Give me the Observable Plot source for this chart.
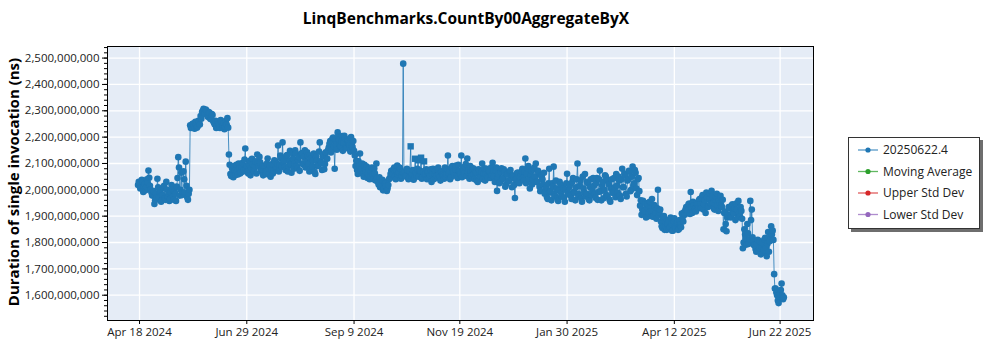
<!DOCTYPE html>
<html>
<head>
<meta charset="utf-8">
<script src="https://cdn.jsdelivr.net/npm/d3@7"></script>
<script src="https://cdn.jsdelivr.net/npm/@observablehq/plot@0.6"></script>
<style>
  body { margin: 0; background: #fff; font-family: "Open Sans", sans-serif; }
  #chart { position: relative; width: 1000px; height: 350px; overflow: hidden; }
  #chart svg.plotsvg { position: absolute; left: 0; top: 0; }
  #title { position: absolute; top: 8px; left: 0; width: 932px; text-align: center;
           font-weight: 700; font-size: 15.5px; color: #000; line-height: 20px; }
  #ylab { position: absolute; left: 13px; top: 182px; transform: translate(-50%, -50%) rotate(-90deg);
          white-space: nowrap; font-weight: 700; font-size: 15px; color: #000; }
  #legend { position: absolute; left: 848px; top: 137px; width: 132px; height: 92px; box-sizing: border-box;
            border: 1px solid #333; box-shadow: 3px 3px 0 #6e6e6e; background: #fff; }
</style>
</head>
<body>
<div id="chart">
  <div id="title"></div>
  <div id="ylab"></div>
  <div id="legend"></div>
</div>
<script>
// ---- data ----
const chartTitle = "LinqBenchmarks.CountBy00AggregateByX";
const yAxisTitle = "Duration of single invocation (ns)";
const firstRun = "2024-04-17";               // two runs per day (00:00 and 12:00) from this date
const morningRunsM = [                       // duration, millions of ns
  2018,2025,2008,2034,2012,1998,2040,2073,2015,1990,1982,1946,
  1985,2042,1972,1995,1960,2008,1968,2030,1975,1958,1990,2002,1962,1985,2012,2124,1978,2065,1990,2040,2107,1972,1985,
  2245,2238,2252,2232,2248,2240,2258,2280,2295,2308,2290,2300,2276,2292,2268,2284,2255,2262,2240,2250,2235,2258,2244,2230,2262,2272,
  2134,2060,2085,2048,2072,2095,2058,2080,2066,2102,2075,2157,2090,2062,2110,2082,2096,2070,2108,2134,2088,2104,2078,
  2055,2090,2062,2119,2080,2050,2098,2072,2108,2085,2168,2095,2120,2180,
  2110,2075,2132,2090,2148,2065,2118,2100,2138,2082,2125,2180,2140,2095,2150,2108,2130,
  2070,2120,2088,2138,2060,2112,2095,2180,2102,2128,2078,2142,2118,
  2160,2185,2150,2198,2080,2172,2218,2190,2165,2204,2178,2195,2158,2185,2170,2200,2162,2148,
  2090,2075,2108,2138,2082,2060,2095,2068,2045,2078,2052,2085,2040,2062,
  2100,2030,2048,2015,2038,2005,2025,1996,2018,
  2045,2072,2058,2085,2040,2092,2065,2080,2055,2479,
  2068,2050,2075,2045,2165,2060,2038,2118,2055,2112,2070,2122,2048,2108,2062,
  2040,2072,2055,2030,2080,2062,2045,2078,2058,2035,2070,2052,
  2085,2060,2130,2072,2048,2090,2065,2078,2052,2095,2070,2130,2085,2062,2098,2119,2075,2090,2055,2082,2040,2068,2030,2075,2050,2100,2062,2035,2080,2045,2070,
  2085,2103,2050,2075,1996,2060,2030,2082,2045,2068,2020,2058,2035,2075,2010,2050,1969,2040,2065,2025,2055,
  2080,2035,2119,2060,2090,2005,2072,2040,2085,2100,2030,2065,1995,2050,2020,
  1985,2010,1965,2080,1995,2025,2088,1975,2005,1958,2030,1990,2015,1970,2000,2061,1982,
  2020,1965,2045,1990,2010,2100,1975,2035,1955,2005,2060,1985,2025,1960,2040,1995,
  2015,1970,2045,1992,2073,1960,2030,2000,2050,1975,2020,1955,2040,1988,2010,
  2060,1990,2035,1965,2080,2010,2055,1975,2040,2070,2000,2088,2025,2065,1980,2045,
  1940,1905,1958,1920,1895,1945,1912,1930,1965,1900,1935,1890,2000,1915,
  1880,1855,1900,1862,1848,1885,1858,1870,1845,1892,1852,1875,1850,1868,1910,1880,
  1905,1935,1920,1948,1992,1912,1940,1925,1950,1930,
  1965,1930,1980,1945,1912,1970,1938,1985,1996,1950,1925,1975,1942,1960,1977,1935,1850,1918,1843,1905,
  1930,1895,1945,1910,1885,1925,1958,1900,1920,
  1778,1850,1815,1870,1795,1958,1925,1805,
  1790,1765,1810,1780,1755,1800,1772,1818,1748,1840,1805,1862,1845,
  1680,1625,1600,1570,1605,1644,1585
];
const eveningRunsM = [
  2030,2005,2038,1992,2022,2010,2028,2046,2000,1978,1995,1960,
  1970,2010,1990,1955,1980,2015,1962,2000,1985,1965,2018,1975,1995,1958,2045,2085,2000,1980,2070,1990,2015,1962,2000,
  2235,2250,2242,2258,2236,2262,2248,2270,2300,2290,2305,2282,2295,2270,2288,2260,2248,2235,2258,2242,2265,2238,2252,2240,2248,2236,
  2095,2052,2075,2090,2056,2068,2100,2062,2088,2070,2115,2080,2068,2098,2055,2118,2075,2090,2062,2100,2125,2070,2092,
  2082,2068,2100,2058,2092,2075,2062,2112,2080,2098,2070,2130,2088,2105,
  2085,2128,2070,2110,2095,2140,2080,2150,2090,2112,2072,2135,2100,2125,2085,2142,2098,
  2130,2082,2110,2068,2125,2090,2145,2108,2075,2135,2098,2120,2150,
  2175,2142,2195,2165,2188,2152,2200,2170,2182,2148,2205,2160,2190,2175,2145,2168,2185,2130,
  2110,2060,2090,2072,2100,2050,2078,2088,2062,2040,2070,2058,2082,2035,
  2045,2020,2010,2035,1998,2030,2012,2005,2040,
  2060,2048,2078,2052,2070,2058,2085,2042,2068,2062,
  2055,2080,2040,2070,2052,2075,2045,2065,2080,2050,2072,2042,2068,2058,2078,
  2065,2045,2078,2060,2040,2072,2055,2085,2048,2068,2058,2042,
  2050,2078,2062,2040,2085,2068,2055,2092,2045,2072,2060,2048,2075,2088,2052,2068,2042,2070,2080,2058,2065,2035,2078,2055,2068,2040,2082,2060,2050,2072,2045,
  2055,2070,2030,2085,2048,2025,2068,2040,2078,2012,2060,2032,2070,2045,2055,2018,2040,2065,2030,2050,2070,
  2045,2068,2025,2082,2040,2058,2020,2078,2050,2030,2072,2012,2055,2040,2065,
  2005,1972,2025,1990,1960,2012,1985,2035,1968,1998,2020,1975,2005,1955,2025,1990,2010,
  1978,2030,1992,1960,2040,1985,2015,1968,2050,1990,1975,2030,1965,2010,1980,2045,
  1985,2025,1962,2040,1995,2015,1968,2055,1980,2035,1962,2005,1990,2045,1972,
  2015,2050,1978,2040,2010,2062,1985,2035,2072,1995,2050,2015,2075,2005,2040,1995,
  1960,1925,1908,1950,1935,1900,1955,1918,1898,1942,1912,1930,1905,1925,
  1862,1895,1848,1878,1870,1852,1895,1845,1882,1860,1872,1848,1885,1858,1895,1915,
  1925,1915,1945,1908,1935,1955,1928,1918,1945,1960,
  1945,1972,1925,1960,1990,1935,1965,1948,1975,1930,1962,1985,1920,1950,1940,1962,1912,1870,1895,1935,
  1905,1940,1918,1930,1948,1895,1912,1935,1890,
  1800,1830,1792,1835,1812,1885,1820,1790,
  1775,1795,1768,1805,1785,1760,1812,1782,1795,1765,1825,1830,1810,
  1625,1610,1580,1595,1620,1600,1592
];
const squareMarkerDates = ["2024-10-17","2024-10-20","2024-10-22","2024-10-24","2024-10-26"];
const xTickLabels = ["2024-04-18","2024-06-29","2024-09-09","2024-11-19","2025-01-30","2025-04-12","2025-06-22"];
const yTickValuesM = [1600,1700,1800,1900,2000,2100,2200,2300,2400,2500];
const legendNames = ["20250622.4","Moving Average","Upper Std Dev","Lower Std Dev"];
const legendColors = ["#1f77b4","#2ca02c","#d62728","#9467bd"];

// ---- build ----
const start = new Date(firstRun + "T00:00:00Z");
const fmtDay = d3.utcFormat("%Y-%m-%d");
const squareSet = new Set(squareMarkerDates);
const runs = [];
morningRunsM.forEach((v, i) => {
  const date = d3.utcDay.offset(start, i);
  runs.push({date, square: squareSet.has(fmtDay(date)), value: v * 1e6});
});
eveningRunsM.forEach((v, i) => {
  const date = d3.utcHour.offset(d3.utcDay.offset(start, i), 12);
  runs.push({date, square: false, value: v * 1e6});
});
runs.sort((a, b) => a.date - b.date);
const circleRuns = runs.filter(d => !d.square);
const squareRuns = runs.filter(d => d.square);
const xTicks = xTickLabels.map(s => new Date(s + "T00:00:00Z"));
const yMajor = yTickValuesM.map(v => v * 1e6);
const yMinor = d3.range(1520, 2541, 20).map(v => v * 1e6);
const blue = legendColors[0];

document.getElementById("title").textContent = chartTitle;
document.getElementById("ylab").textContent = yAxisTitle;

const plot = Plot.plot({
  width: 1000,
  height: 350,
  marginLeft: 107,
  marginRight: 187,
  marginTop: 46,
  marginBottom: 30,
  style: {fontFamily: '"Open Sans", sans-serif', fontSize: "11.5px", color: "#222", background: "transparent"},
  x: {type: "utc", domain: [new Date("2024-03-27T12:00:00Z"), new Date("2025-07-14T10:00:00Z")], label: null},
  y: {domain: [1504e6, 2544e6], label: null},
  marks: [
    Plot.frame({fill: "#E5ECF6", stroke: null}),
    Plot.gridX({ticks: xTicks, stroke: "#fff", strokeOpacity: 1, strokeWidth: 1.3}),
    Plot.gridY({ticks: yMajor, stroke: "#fff", strokeOpacity: 1, strokeWidth: 1.3}),
    Plot.line(runs, {x: "date", y: "value", stroke: blue, strokeWidth: 1, strokeOpacity: 0.8}),
    Plot.dot(circleRuns, {x: "date", y: "value", r: 3.3, fill: blue, stroke: null}),
    Plot.dot(squareRuns, {x: "date", y: "value", r: 3.6, symbol: "square", fill: blue, stroke: null}),
    Plot.axisY({ticks: yMinor, tickSize: 3, tickFormat: () => "", label: null, stroke: "#000"}),
    Plot.axisY({ticks: yMajor, tickSize: 5, tickPadding: 3, tickFormat: d3.format(","), label: null, stroke: "#000"}),
    Plot.axisX({ticks: xTicks, tickSize: 4, tickPadding: 3, tickFormat: d3.utcFormat("%b %-d %Y"), label: null, stroke: "#000"}),
    Plot.frame({stroke: "#000", strokeWidth: 1})
  ]
});
plot.classList.add("plotsvg");
document.getElementById("chart").insertBefore(plot, document.getElementById("title"));

// legend
const lg = d3.select("#legend").append("svg").attr("width", 130).attr("height", 90)
  .style("font-family", '"Open Sans", sans-serif').style("font-size", "12px");
legendNames.forEach((name, i) => {
  const y = 12 + i * 21.5;
  const g = lg.append("g");
  g.append("line").attr("x1", 9).attr("x2", 29).attr("y1", y).attr("y2", y)
    .attr("stroke", legendColors[i]).attr("stroke-width", 1.3).attr("stroke-opacity", 0.75);
  g.append("circle").attr("cx", 19).attr("cy", y).attr("r", 2.6).attr("fill", legendColors[i]);
  g.append("text").attr("x", 34).attr("y", y).attr("dy", "0.35em").attr("fill", "#222").text(name);
});
</script>
</body>
</html>
